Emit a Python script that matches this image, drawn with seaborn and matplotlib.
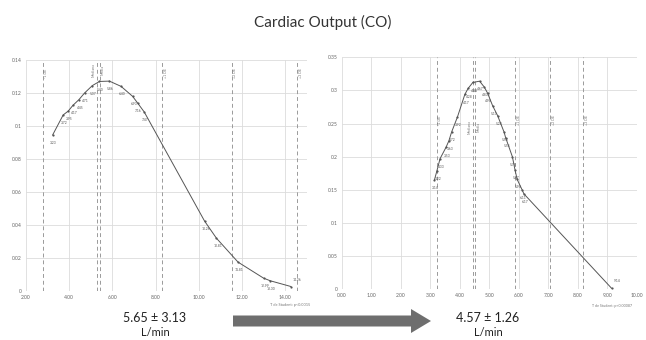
import matplotlib
matplotlib.use("Agg")
import matplotlib.pyplot as plt
import seaborn as sns
import pandas as pd
from matplotlib.patches import FancyArrow

# ---------------- data ----------------
left_x = [3.23, 3.72, 3.95, 4.17, 4.45, 4.71, 5.07, 5.40, 5.86, 6.40, 6.93, 7.16, 7.47,
          10.26, 10.81, 11.81, 12.99, 13.30, 14.26]
left_y = [0.0945, 0.1067, 0.1090, 0.1125, 0.1160, 0.1200, 0.1245, 0.1270, 0.1272, 0.1240,
          0.1180, 0.1140, 0.1085, 0.0424, 0.0320, 0.0175, 0.0078, 0.0062, 0.0027]
left_vlines = [2.77, 5.30, 5.41, 8.31, 11.53, 14.55]
left_vlabels = ["-1 DE", "Mediana", "Media", "+1 DE", "+2 DE", "+3 DE"]

right_x = [3.14, 3.22, 3.33, 3.53, 3.63, 3.72, 3.92, 4.17, 4.28, 4.44, 4.67, 4.83, 4.94,
           5.11, 5.28, 5.50, 5.55, 5.78, 5.87, 5.94, 6.11, 6.17, 9.14]
right_y = [0.165, 0.178, 0.197, 0.214, 0.224, 0.237, 0.260, 0.294, 0.303, 0.312, 0.314,
           0.305, 0.296, 0.277, 0.262, 0.237, 0.229, 0.200, 0.180, 0.166, 0.150, 0.144, 0.0015]
right_vlines = [3.22, 4.44, 4.52, 5.87, 7.06, 8.17]
right_vlabels = ["-1 DE", "Mediana", "Media", "+1 DE", "+2 DE", "+3 DE"]

left_xticks = [2, 4, 6, 8, 10, 12, 14]
left_yticks = [0, 0.02, 0.04, 0.06, 0.08, 0.10, 0.12, 0.14]
left_ylabels = ["0", "0.02", "0.04", "0.06", "0.08", "0.1", "0.12", "0.14"]
right_xticks = [0, 1, 2, 3, 4, 5, 6, 7, 8, 9, 10]
right_yticks = [0, 0.05, 0.10, 0.15, 0.20, 0.25, 0.30, 0.35]
right_ylabels = ["0", "0.05", "0.1", "0.15", "0.2", "0.25", "0.3", "0.35"]

title = "Cardiac Output (CO)"
left_stat = "5.65 \u00b1 3.13"
right_stat = "4.57 \u00b1 1.26"
unit = "L/min"
arrow_text = "T de Student: p<0.0015"
right_note = "T de Student: p<0.00087"

# ---------------- style ----------------
sns.set_style("whitegrid")
plt.rcParams["font.family"] = ["Lato", "DejaVu Sans"]

W, H = 646, 340
fig = plt.figure(figsize=(W / 100, H / 100), dpi=100)


def px_rect(x0, x1, ytop, ybot):
    return [x0 / W, 1 - ybot / H, (x1 - x0) / W, (ybot - ytop) / H]


def draw_panel(ax, xs, ys, vlines, vlabels, xlim, ylim, xticks, yticks, ylabels,
               label_y, mid_label_y):
    df = pd.DataFrame({"x": xs, "y": ys})
    span = xlim[1] - xlim[0]
    for i, v in enumerate(vlines):
        ax.axvline(v, color="#9a9a9a", lw=0.7, ls=(0, (4, 3)), zorder=1)
        if i == 1:
            off, yy = -0.012 * span, mid_label_y
        elif i == 2:
            off, yy = 0.012 * span, mid_label_y
        else:
            off, yy = 0.012 * span, label_y
        ax.text(v + off, yy, vlabels[i], rotation=90, fontsize=2.6, color="#777777",
                ha="center", va="center")
    sns.lineplot(data=df, x="x", y="y", ax=ax, color="#555555", lw=0.7,
                 marker="o", markersize=1.6, markeredgewidth=0, sort=False, zorder=3)
    for x, y in zip(xs, ys):
        ly = y - 0.035 * ylim[1]
        lx = x + 0.004 * span
        if ly < 0:
            ly = y + 0.03 * ylim[1]
            lx = x + 0.02 * span
        ax.text(lx, ly, f"{x:.2f}", fontsize=2.4, color="#555555", ha="center", va="center")
    ax.set_xlim(*xlim)
    ax.set_ylim(*ylim)
    ax.set_xticks(xticks)
    ax.set_xticklabels([f"{t:.2f}" for t in xticks])
    ax.set_yticks(yticks)
    ax.set_yticklabels(ylabels)
    ax.tick_params(labelsize=3.6, colors="#666666", length=0, pad=3)
    ax.grid(True, color="#dcdcdc", lw=0.6)
    ax.set_xlabel("")
    ax.set_ylabel("")
    for s in ax.spines.values():
        s.set_visible(False)


axL = fig.add_axes(px_rect(26, 307, 60, 291))
draw_panel(axL, left_x, left_y, left_vlines, left_vlabels, (2, 15), (0, 0.14),
           left_xticks, left_yticks, left_ylabels, 0.132, 0.134)

axR = fig.add_axes(px_rect(341.7, 637, 57.3, 289.3))
draw_panel(axR, right_x, right_y, right_vlines, right_vlabels, (0, 10), (0, 0.35),
           right_xticks, right_yticks, right_ylabels, 0.255, 0.245)

# overlay in pixel coordinates for annotations
ov = fig.add_axes([0, 0, 1, 1])
ov.set_xlim(0, W)
ov.set_ylim(H, 0)
ov.axis("off")
ov.patch.set_alpha(0)

ov.text(323, 22, title, fontsize=11, color="#333333", ha="center", va="center")
ov.text(155, 318, left_stat, fontsize=9, color="#222222", ha="center", va="center")
ov.text(155, 333, unit, fontsize=8, color="#222222", ha="center", va="center")
ov.text(488, 318, right_stat, fontsize=9, color="#222222", ha="center", va="center")
ov.text(488, 333, unit, fontsize=8, color="#222222", ha="center", va="center")
ov.add_patch(FancyArrow(233, 321, 178, 0, width=11, head_width=24, head_length=20,
                        length_includes_head=False, color="#6e6e6e", lw=0))
ov.text(290, 305, arrow_text, fontsize=2.8, color="#777777", ha="center", va="center")
ov.text(612, 306, right_note, fontsize=2.6, color="#777777", ha="center", va="center")

fig.savefig("out.png", dpi=100)
